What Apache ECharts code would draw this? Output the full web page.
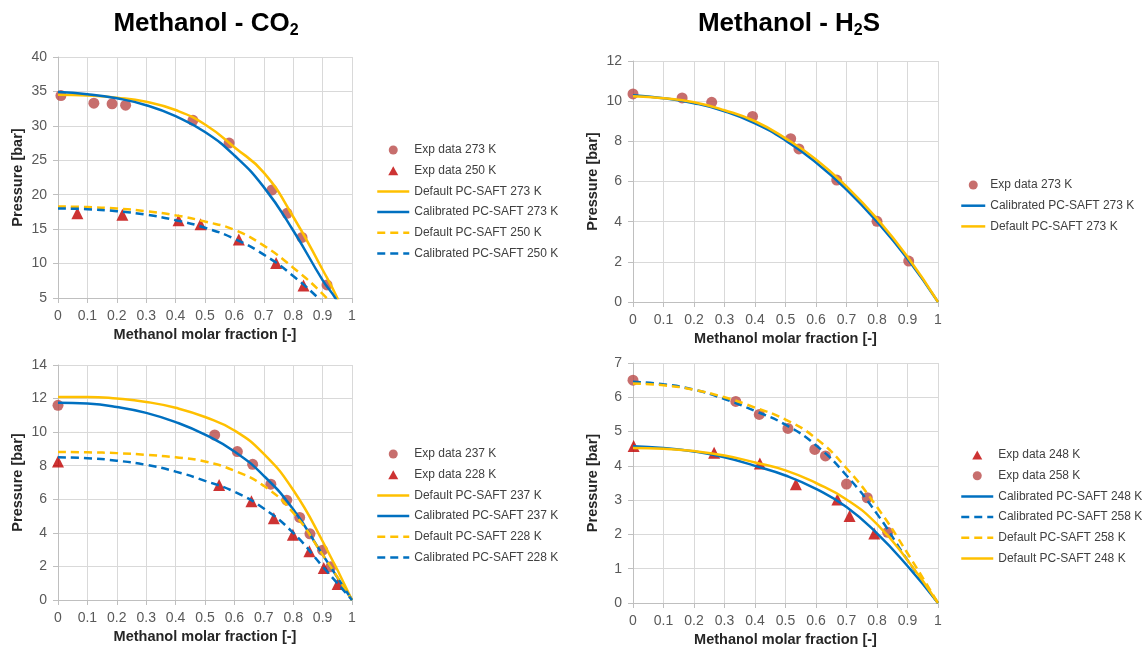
<!DOCTYPE html>
<html>
<head>
<meta charset="utf-8">
<script src="https://cdn.jsdelivr.net/npm/echarts@6/dist/echarts.min.js"></script>
<style>
html, body { margin: 0; padding: 0; background: #fff; }
#main { width: 1144px; height: 649px; }
</style>
</head>
<body>
<div id="main"></div>
<script>
// molar fraction grid the model curves were read at
var xCurve = [0, 0.1, 0.2, 0.3, 0.4, 0.5, 0.6, 0.7, 0.8, 0.9, 1];
var xCurveCO2 = [0, 0.1, 0.2, 0.3, 0.4, 0.5, 0.6, 0.7, 0.8, 0.9, 0.95, 1];

// Methanol - CO2, 273 K / 250 K
var co2ExpX273 = [0.01, 0.122, 0.184, 0.23, 0.459, 0.582, 0.728, 0.779, 0.83, 0.915];
var co2ExpP273 = [34.4, 33.3, 33.2, 33.0, 30.8, 27.5, 20.7, 17.3, 13.8, 6.9];
var co2ExpX250 = [0.066, 0.219, 0.41, 0.485, 0.615, 0.742, 0.835];
var co2ExpP250 = [17.3, 17.1, 16.3, 15.7, 13.5, 10.1, 6.8];
var co2Def273 = [34.5, 34.4, 34.1, 33.5, 32.3, 30.2, 26.9, 23.2, 16.8, 9.1, 5.0, 0];
var co2Cal273 = [34.9, 34.6, 34.0, 33.0, 31.4, 29.1, 25.7, 21.1, 14.8, 7.6, 4.5, 0];
var co2Def250 = [18.3, 18.2, 18.0, 17.6, 17.0, 16.1, 14.9, 12.6, 9.4, 5.6, 3.0, 0];
var co2Cal250 = [18.0, 17.9, 17.6, 17.1, 16.3, 15.2, 13.6, 11.3, 8.2, 4.4, 2.2, 0];

// Methanol - H2S, 273 K
var h2sExpX273 = [0, 0.161, 0.258, 0.392, 0.517, 0.544, 0.668, 0.80, 0.904];
var h2sExpP273 = [10.36, 10.16, 9.94, 9.24, 8.13, 7.62, 6.07, 4.02, 2.04];
var h2sCal273 = [10.3, 10.15, 9.9, 9.5, 8.9, 8.05, 6.95, 5.6, 4.0, 2.15, 0];
var h2sDef273 = [10.25, 10.15, 9.95, 9.55, 9.0, 8.15, 7.1, 5.75, 4.15, 2.25, 0];

// Methanol - CO2, 237 K / 228 K
var co2ExpX237 = [0, 0.533, 0.61, 0.662, 0.724, 0.778, 0.822, 0.857, 0.9, 0.928];
var co2ExpP237 = [11.6, 9.83, 8.84, 8.08, 6.9, 5.95, 4.92, 3.94, 2.97, 1.98];
var co2ExpX228 = [0, 0.548, 0.658, 0.734, 0.799, 0.855, 0.904, 0.951];
var co2ExpP228 = [8.25, 6.85, 5.88, 4.87, 3.89, 2.9, 1.9, 0.95];
var co2Def237 = [12.1, 12.1, 12.0, 11.8, 11.45, 10.9, 10.1, 8.7, 6.55, 3.5, 0];
var co2Cal237 = [11.75, 11.7, 11.5, 11.15, 10.6, 9.85, 8.85, 7.4, 5.4, 2.7, 0];
var co2Def228 = [8.82, 8.8, 8.75, 8.65, 8.5, 8.25, 7.7, 6.8, 5.2, 2.7, 0];
var co2Cal228 = [8.5, 8.45, 8.3, 8.05, 7.65, 7.1, 6.45, 5.45, 4.0, 2.0, 0];

// Methanol - H2S, 248 K / 258 K
var h2sExpX248 = [0.002, 0.266, 0.416, 0.534, 0.67, 0.71, 0.791];
var h2sExpP248 = [4.58, 4.38, 4.07, 3.46, 3.02, 2.54, 2.03];
var h2sExpX258 = [0, 0.337, 0.414, 0.508, 0.596, 0.631, 0.70, 0.768, 0.835];
var h2sExpP258 = [6.5, 5.88, 5.5, 5.09, 4.48, 4.29, 3.47, 3.07, 2.06];
var h2sCal248 = [4.57, 4.52, 4.42, 4.25, 4.0, 3.72, 3.33, 2.8, 2.03, 1.08, 0];
var h2sDef248 = [4.52, 4.5, 4.43, 4.3, 4.1, 3.87, 3.5, 3.02, 2.3, 1.25, 0];
var h2sCal258 = [6.45, 6.38, 6.22, 5.95, 5.6, 5.2, 4.6, 3.72, 2.6, 1.25, 0];
var h2sDef258 = [6.4, 6.35, 6.22, 6.0, 5.7, 5.35, 4.8, 3.93, 2.8, 1.45, 0];

var yellow = '#FFC000';
var blue = '#0070C0';
var font = 'Liberation Sans';

function pairs(xs, ys) {
    return xs.map(function (x, i) { return [x, ys[i]]; });
}

function circles(name, gi, xs, ys) {
    return {
        type: 'scatter', name: name, xAxisIndex: gi, yAxisIndex: gi,
        symbol: 'circle', symbolSize: 11,
        itemStyle: { color: '#B94A48' },
        data: pairs(xs, ys)
    };
}

function triangles(name, gi, xs, ys) {
    return {
        type: 'scatter', name: name, xAxisIndex: gi, yAxisIndex: gi,
        symbol: 'triangle', symbolSize: 12,
        itemStyle: { color: '#C00000' },
        data: pairs(xs, ys)
    };
}

function curve(name, gi, xs, ys, color, dashed) {
    return {
        type: 'line', name: name, xAxisIndex: gi, yAxisIndex: gi,
        smooth: true, symbol: 'none', clip: true,
        itemStyle: { color: color },
        lineStyle: { color: color, width: 2.5, type: dashed ? [8, 5] : 'solid' },
        data: pairs(xs, ys)
    };
}

function xAx(gi) {
    return {
        type: 'value', gridIndex: gi, min: 0, max: 1, interval: 0.1,
        name: 'Methanol molar fraction [-]', nameLocation: 'middle', nameGap: 29,
        nameTextStyle: { fontFamily: font, fontWeight: 'bold', fontSize: 14.5, color: '#262626' },
        axisLine: { onZero: false, lineStyle: { color: '#bfbfbf' } },
        axisTick: { show: true, length: 5, lineStyle: { color: '#bfbfbf' } },
        axisLabel: { fontFamily: font, fontSize: 14, color: '#595959', margin: 11 },
        splitLine: { show: true, lineStyle: { color: '#d9d9d9' } }
    };
}

function yAx(gi, min, max, step) {
    return {
        type: 'value', gridIndex: gi, min: min, max: max, interval: step,
        name: 'Pressure [bar]', nameLocation: 'middle', nameGap: 33,
        nameTextStyle: { fontFamily: font, fontWeight: 'bold', fontSize: 14.5, color: '#262626' },
        axisLine: { show: true, onZero: false, lineStyle: { color: '#bfbfbf' } },
        axisTick: { show: true, length: 5, lineStyle: { color: '#bfbfbf' } },
        axisLabel: { fontFamily: font, fontSize: 14, color: '#595959', margin: 11 },
        splitLine: { show: true, lineStyle: { color: '#d9d9d9' } }
    };
}

// line entries hide the dot echarts puts on a line icon,
// triangle entries get a path icon so it keeps its shape
function legendItem(name) {
    if (name.indexOf('Exp data') === 0) {
        if (name === 'Exp data 250 K' || name === 'Exp data 228 K' || name === 'Exp data 248 K') {
            return { name: name, icon: 'path://M0,9L5,0L10,9Z' };
        }
        return { name: name };
    }
    return { name: name, itemStyle: { opacity: 0 } };
}

function legendBox(left, top, width, names) {
    return {
        orient: 'vertical', left: left, top: top, padding: 0,
        itemWidth: width, itemHeight: 9, itemGap: 8.7,
        selectedMode: false, symbolKeepAspect: true,
        lineStyle: { width: 2.5 },
        textStyle: { fontFamily: font, fontSize: 12, color: '#404040' },
        data: names.map(legendItem)
    };
}

var titleRich = {
    m: { fontFamily: font, fontSize: 26, fontWeight: 'bold', color: '#000' },
    s: { fontFamily: font, fontSize: 16, fontWeight: 'bold', color: '#000', padding: [14, 0, 0, 0] }
};

var myChart = echarts.init(document.getElementById('main'));
var option = {
    animation: false,
    backgroundColor: '#fff',
    title: [
        { text: '{m|Methanol - CO}{s|2}', left: 206, top: 9, padding: 0, textAlign: 'center', textStyle: { rich: titleRich } },
        { text: '{m|Methanol - H}{s|2}{m|S}', left: 789, top: 9, padding: 0, textAlign: 'center', textStyle: { rich: titleRich } }
    ],
    legend: [
        legendBox(376, 144, 32, ['Exp data 273 K', 'Exp data 250 K', 'Default PC-SAFT 273 K',
            'Calibrated PC-SAFT 273 K', 'Default PC-SAFT 250 K', 'Calibrated PC-SAFT 250 K']),
        legendBox(960, 179, 24, ['Exp data 273 K', 'Calibrated PC-SAFT 273 K', 'Default PC-SAFT 273 K']),
        legendBox(376, 448, 32, ['Exp data 237 K', 'Exp data 228 K', 'Default PC-SAFT 237 K',
            'Calibrated PC-SAFT 237 K', 'Default PC-SAFT 228 K', 'Calibrated PC-SAFT 228 K']),
        legendBox(960, 449, 32, ['Exp data 248 K', 'Exp data 258 K', 'Calibrated PC-SAFT 248 K',
            'Calibrated PC-SAFT 258 K', 'Default PC-SAFT 258 K', 'Default PC-SAFT 248 K'])
    ],
    grid: [
        { left: 58, top: 57, width: 294, height: 241 },
        { left: 633, top: 61, width: 305, height: 241 },
        { left: 58, top: 365, width: 294, height: 235 },
        { left: 633, top: 363, width: 305, height: 240 }
    ],
    xAxis: [xAx(0), xAx(1), xAx(2), xAx(3)],
    yAxis: [yAx(0, 5, 40, 5), yAx(1, 0, 12, 2), yAx(2, 0, 14, 2), yAx(3, 0, 7, 1)],
    series: [
        circles('Exp data 273 K', 0, co2ExpX273, co2ExpP273),
        triangles('Exp data 250 K', 0, co2ExpX250, co2ExpP250),
        curve('Default PC-SAFT 273 K', 0, xCurveCO2, co2Def273, yellow, false),
        curve('Calibrated PC-SAFT 273 K', 0, xCurveCO2, co2Cal273, blue, false),
        curve('Default PC-SAFT 250 K', 0, xCurveCO2, co2Def250, yellow, true),
        curve('Calibrated PC-SAFT 250 K', 0, xCurveCO2, co2Cal250, blue, true),

        circles('Exp data 273 K', 1, h2sExpX273, h2sExpP273),
        curve('Calibrated PC-SAFT 273 K', 1, xCurve, h2sCal273, blue, false),
        curve('Default PC-SAFT 273 K', 1, xCurve, h2sDef273, yellow, false),

        circles('Exp data 237 K', 2, co2ExpX237, co2ExpP237),
        triangles('Exp data 228 K', 2, co2ExpX228, co2ExpP228),
        curve('Default PC-SAFT 237 K', 2, xCurve, co2Def237, yellow, false),
        curve('Calibrated PC-SAFT 237 K', 2, xCurve, co2Cal237, blue, false),
        curve('Default PC-SAFT 228 K', 2, xCurve, co2Def228, yellow, true),
        curve('Calibrated PC-SAFT 228 K', 2, xCurve, co2Cal228, blue, true),

        triangles('Exp data 248 K', 3, h2sExpX248, h2sExpP248),
        circles('Exp data 258 K', 3, h2sExpX258, h2sExpP258),
        curve('Calibrated PC-SAFT 248 K', 3, xCurve, h2sCal248, blue, false),
        curve('Calibrated PC-SAFT 258 K', 3, xCurve, h2sCal258, blue, true),
        curve('Default PC-SAFT 258 K', 3, xCurve, h2sDef258, yellow, true),
        curve('Default PC-SAFT 248 K', 3, xCurve, h2sDef248, yellow, false)
    ]
};
myChart.setOption(option);
</script>
</body>
</html>
